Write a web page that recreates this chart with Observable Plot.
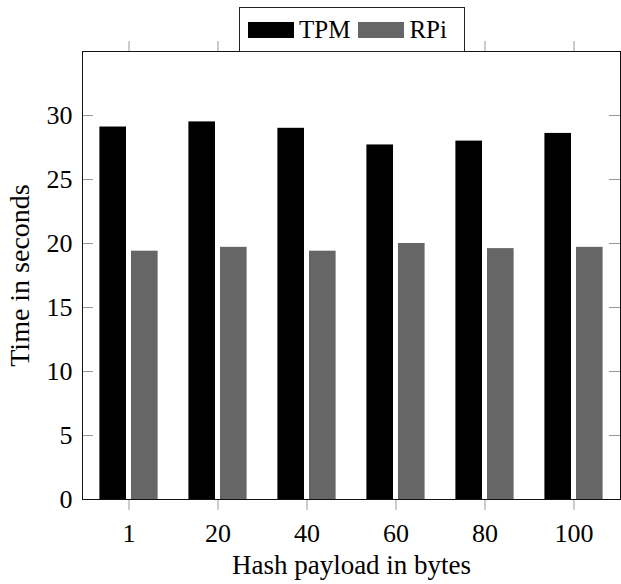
<!DOCTYPE html>
<html>
<head>
<meta charset="utf-8">
<script src="https://cdn.jsdelivr.net/npm/d3@7"></script>
<script src="https://cdn.jsdelivr.net/npm/@observablehq/plot@0.6"></script>
<style>
  html, body { margin: 0; padding: 0; background: #fff; }
  #wrap { position: relative; width: 621px; height: 584px; font-family: "Liberation Serif", "Times New Roman", serif; }
  #wrap svg text { font-family: "Liberation Serif", "Times New Roman", serif; }
  #legend { position: absolute; left: 239px; top: 7px; width: 224px; height: 43px; border: 1px solid #222; background: #fff; box-sizing: content-box; display: flex; align-items: center; font-size: 25px; font-family: "Liberation Serif", serif; }
  .sw { display: inline-block; width: 46px; height: 16px; margin-left: 8px; margin-right: 5px; }
  .lab { display: inline-block; }
</style>
</head>
<body>
<div id="wrap"></div>
<script>
const categories = ["1", "20", "40", "60", "80", "100"];
const tpm = [29.1, 29.5, 29.0, 27.7, 28.0, 28.6];
const rpi = [19.4, 19.7, 19.4, 20.0, 19.6, 19.7];
const seriesNames = ["TPM", "RPi"];
const seriesColors = ["#000000", "#666666"];
const yTicks = [0, 5, 10, 15, 20, 25, 30];

const rowsTPM = categories.map((c, i) => ({cat: c, value: tpm[i]}));
const rowsRPi = categories.map((c, i) => ({cat: c, value: rpi[i]}));

const font = "Liberation Serif";
const chart = Plot.plot({
  width: 621,
  height: 584,
  marginLeft: 82,
  marginRight: 1,
  marginTop: 51,
  marginBottom: 85,
  style: {fontFamily: "'Liberation Serif', serif", fontSize: "26px", background: "#fff"},
  x: {type: "band", domain: categories, padding: 0},
  y: {domain: [0, 35]},
  marks: [
    Plot.barY(rowsTPM, {x: "cat", y: "value", fill: seriesColors[0], insetLeft: 15.4, insetRight: 47}),
    Plot.barY(rowsRPi, {x: "cat", y: "value", fill: seriesColors[1], insetLeft: 47, insetRight: 15.4}),
    Plot.tickY(yTicks, {y: d => d, stroke: "#999", insetRight: 527}),
    Plot.tickY(yTicks, {y: d => d, stroke: "#999", insetLeft: 527}),
    Plot.axisX({anchor: "bottom", tickSize: 11, tickPadding: 13, stroke: "#999", fill: "#000", fontSize: 26, fontFamily: font,
      label: null}),
    Plot.axisX({anchor: "bottom", tickSize: 0, tickFormat: () => "", fontSize: 27, fontFamily: font, fill: "#000",
      label: "Hash payload in bytes", labelAnchor: "center", labelArrow: "none", labelOffset: 74}),
    Plot.axisX({anchor: "top", tickSize: 11, stroke: "#999", tickFormat: () => "", label: null}),
    Plot.axisY({anchor: "left", ticks: yTicks, tickSize: 0, tickPadding: 10, fill: "#000", fontSize: 26, fontFamily: font,
      label: null}),
    Plot.axisY({anchor: "left", ticks: [], tickSize: 0, fontSize: 28, fontFamily: font, fill: "#000",
      label: "Time in seconds", labelAnchor: "center", labelArrow: "none", labelOffset: 73}),
    Plot.frame({stroke: "#111"})
  ]
});
const wrap = document.getElementById("wrap");
wrap.appendChild(chart);

const legend = document.createElement("div");
legend.id = "legend";
seriesNames.forEach((name, i) => {
  const sw = document.createElement("span");
  sw.className = "sw";
  sw.style.background = seriesColors[i];
  const lb = document.createElement("span");
  lb.className = "lab";
  lb.textContent = name;
  legend.appendChild(sw);
  legend.appendChild(lb);
});
wrap.appendChild(legend);
</script>
</body>
</html>
